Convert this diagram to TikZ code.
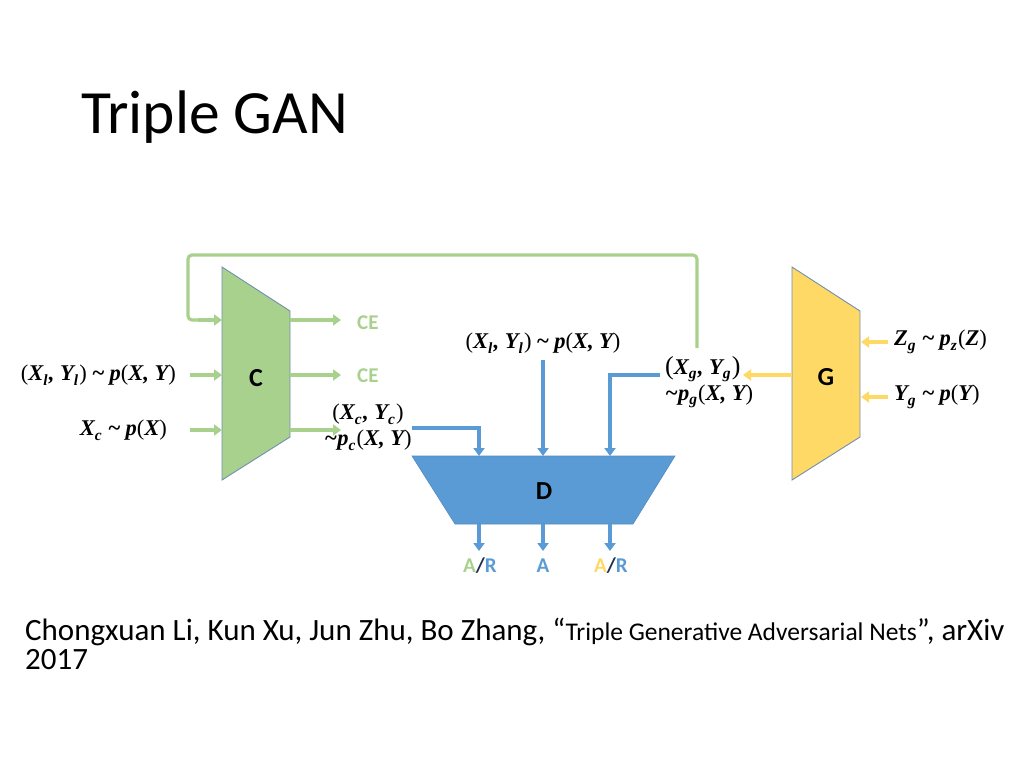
\documentclass[tikz,border=0pt]{standalone}
\usepackage{fontspec}
\setmainfont{Carlito}
\newfontfamily\mf{Liberation Serif}
\usetikzlibrary{arrows.meta}
\definecolor{cgreen}{HTML}{A9D18E}
\definecolor{dblue}{HTML}{5B9BD5}
\definecolor{gold}{HTML}{FFD966}
\definecolor{edgec}{HTML}{6F8FAF}
\definecolor{slashc}{HTML}{1F2F4F}
\newcommand{\tl}{\hspace{0.22em}\textasciitilde\hspace{0.22em}}
\newcommand{\sbs}[1]{\raisebox{-0.45ex}{\fontsize{15.5}{15.5}\selectfont #1}\kern1.2pt}
\newcommand{\lp}{{\upshape\mdseries(}}
\newcommand{\rp}{{\upshape\mdseries)}}
\tikzset{
  con/.style={line width=3.2pt},
  tipped/.style={-{Triangle[width=11pt,length=8pt]}},
  garrow/.style={con,tipped,draw=cgreen},
  barrow/.style={con,tipped,draw=dblue},
  yarrow/.style={con,tipped,draw=gold},
  mlab/.style={inner sep=1pt,font=\fontsize{22.5}{26}\selectfont\mf\bfseries\itshape},
  blab/.style={inner sep=1pt,font=\fontsize{26}{30}\selectfont\bfseries},
  olab/.style={inner sep=1pt,font=\fontsize{21}{25}\selectfont\bfseries},
  trap/.style={draw=edgec,line width=0.9pt}
}
\begin{document}
\begin{tikzpicture}[x=1pt,y=-1pt]
\useasboundingbox (0,0) rectangle (1024,768);
% title
\node[anchor=base west,inner sep=0,font=\fontsize{61.5}{66}\selectfont] (title) at (81,133) {Triple GAN};
% C
\draw[trap,fill=cgreen] (222,267) -- (290,311) -- (290,437) -- (222,480) -- cycle;
\node[blab] (C) at (256,378) {C};
\coordinate (Cin1) at (222,320);
\coordinate (Cin2) at (222,375);
\coordinate (Cin3) at (222,430);
\coordinate (Cout1) at (290,320);
\coordinate (Cout2) at (290,375);
\coordinate (Cout3) at (290,430);
% G
\draw[trap,fill=gold] (792,267) -- (860,311) -- (860,437) -- (792,480) -- cycle;
\node[blab] (G) at (826,377) {G};
\coordinate (Gout) at (792,375);
\coordinate (Gin1) at (861,342);
\coordinate (Gin2) at (861,397);
% D
\draw[draw=dblue!90!black,line width=0.6pt,fill=dblue] (412,456) -- (675,456) -- (633,524) -- (455,524) -- cycle;
\node[blab] (D) at (544,491) {D};
\coordinate (Din1) at (479,456);
\coordinate (Din2) at (543,456);
\coordinate (Din3) at (610,456);
\coordinate (Dout1) at (479,524);
\coordinate (Dout2) at (543,524);
\coordinate (Dout3) at (610,524);
% C inputs
\node[mlab,anchor=east] (xl) at (177,375) {\lp X\sbs{l}, Y\sbs{l}\rp\tl p\lp X, Y\rp};
\node[mlab,anchor=east] (xc) at (168,430) {X\sbs{c}\tl p\lp X\rp};
\draw[garrow] (190,375) -- (Cin2);
\draw[garrow] (190,430) -- (Cin3);
% C outputs
\node[olab,anchor=west,text=cgreen] (ce1) at (356,323) {CE};
\node[olab,anchor=west,text=cgreen] (ce2) at (356,376) {CE};
\coordinate (ce1a) at (341,320);
\coordinate (ce2a) at (341,375);
\draw[garrow] (Cout1) -- (ce1a);
\draw[garrow] (Cout2) -- (ce2a);
\node[mlab,align=center] (xcyc) at (368,427) {\lp X\sbs{c}, Y\sbs{c}\rp\\\textasciitilde p\sbs{c}\lp X, Y\rp};
\coordinate (xca) at (341,430);
\draw[garrow] (Cout3) -- (xca);
% feedback
\coordinate (fb) at (697,348);
\draw[con,draw=cgreen,rounded corners=4pt] (fb) -- (697,255) -- (188,255) -- (188,320) -- (200,320);
\draw[garrow] (198,320) -- (Cin1);
% D inputs
\coordinate (xcb) at (412,428);
\draw[barrow] (xcb) -- (Din1 |- xcb) -- (Din1);
\node[mlab] (xlm) at (543,343) {\lp X\sbs{l}, Y\sbs{l}\rp\tl p\lp X, Y\rp};
\coordinate (xlmb) at (543,360);
\draw[barrow] (xlmb) -- (Din2);
\node[mlab,align=left,anchor=west] (xg) at (664,382) {{\fontsize{26}{26}\selectfont\lp}X\sbs{g}, Y\sbs{g}{\fontsize{26}{26}\selectfont\rp}\\\textasciitilde p\sbs{g}\lp X, Y\rp};
\coordinate (xgb) at (660,375);
\draw[barrow] (xgb) -- (Din3 |- xgb) -- (Din3);
% G
\coordinate (xga) at (743,375);
\draw[yarrow] (Gout) -- (xga);
\node[mlab,anchor=west] (zg) at (893,342) {Z\sbs{g}\tl p\sbs{z}\lp Z\rp};
\node[mlab,anchor=west] (yg) at (893,397) {Y\sbs{g}\tl p\lp Y\rp};
\draw[yarrow] (888,342) -- (Gin1);
\draw[yarrow] (888,397) -- (Gin2);
% D outputs
\node[olab] (o1) at (480,566) {\textcolor{cgreen}{A}\textcolor{slashc}{/}\textcolor{dblue}{R}};
\node[olab,text=dblue] (o2) at (543,566) {A};
\node[olab] (o3) at (611,566) {\textcolor{gold}{A}\textcolor{slashc}{/}\textcolor{dblue}{R}};
\draw[barrow] (Dout1) -- (479,551);
\draw[barrow] (Dout2) -- (543,551);
\draw[barrow] (Dout3) -- (610,551);
% footer
\node[anchor=base west,inner sep=0,font=\fontsize{31}{35}\selectfont] (ref1) at (25,640) {Chongxuan Li, Kun Xu, Jun Zhu, Bo Zhang, \textquotedblleft{\fontsize{25.5}{29}\selectfont Triple Generative Adversarial Nets}\textquotedblright, arXiv};
\node[anchor=base west,inner sep=0,font=\fontsize{31}{35}\selectfont] (ref2) at (25,669) {2017};
\end{tikzpicture}
\end{document}
